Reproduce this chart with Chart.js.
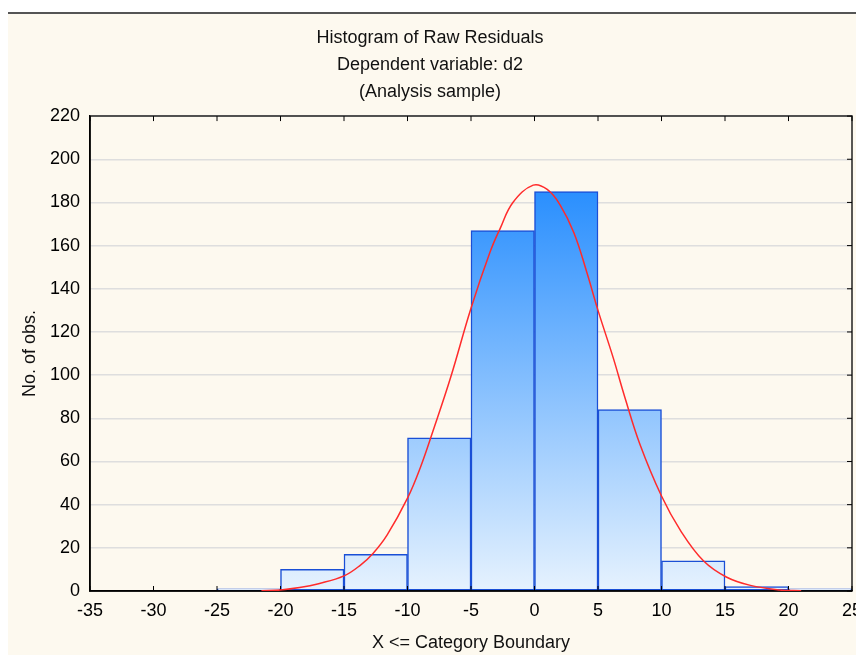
<!DOCTYPE html>
<html>
<head>
<meta charset="utf-8">
<script src="https://cdn.jsdelivr.net/npm/chart.js@4.4.1/dist/chart.umd.min.js"></script>
<style>
  html, body { margin: 0; padding: 0; background: #fff; overflow: hidden; width: 856px; height: 655px; }
  #frame { position: absolute; left: 8px; top: 12px; width: 900px; height: 660px;
           border-top: 2px solid #555; background: #fdf9ef; }
  #hist { display: block; }
</style>
</head>
<body>
<div id="frame"><canvas id="hist" width="880" height="641"></canvas></div>
<script>
// histogram bins (left edge of each 5-wide class) and counts
const binLeft = [-25, -20, -15, -10, -5, 0, 5, 10, 15, 20];
const binWidth = 5;
const counts = [1, 10, 17, 71, 167, 185, 84, 14, 2, 1];

// fitted normal curve
const curveX = [-21.5, -20, -18.5, -17, -15, -13.7, -12.7, -11.6, -10, -9, -8, -6.6, -5, -3.5, -2.7, -1.7, -0.1,
                1, 2, 3.1, 4.1, 5, 6.2, 7.1, 8.3, 10, 11.5, 13.3, 15.1, 17, 19.3, 21];
const curveY = [0.1, 0.5, 1.6, 3.4, 7, 12, 17.5, 26, 43, 57, 74, 99, 131, 157, 168, 180, 188,
                186, 179, 166, 148, 130, 108, 90, 68, 44, 28, 14, 6.5, 2.6, 0.5, 0.1];

const titleLines = ['Histogram of Raw Residuals', 'Dependent variable: d2', '(Analysis sample)'];
const xTitle = 'X <= Category Boundary';
const yTitle = 'No. of obs.';

const FONT = 'Liberation Sans, Arial, sans-serif';

// top/right frame + inward ticks, drawn after bars and before the curve
const framePlugin = {
  id: 'frame',
  afterDatasetDraw(chart, args) {
    if (args.index !== 1) return;
    const { ctx, chartArea: a, scales } = chart;
    ctx.save();
    ctx.lineWidth = 1.5;
    ctx.strokeStyle = '#222';
    ctx.beginPath();
    ctx.moveTo(a.left, a.top); ctx.lineTo(a.right, a.top); ctx.lineTo(a.right, a.bottom);
    ctx.stroke();
    ctx.strokeStyle = '#000';
    ctx.beginPath();
    ctx.moveTo(a.left, a.top); ctx.lineTo(a.left, a.bottom); ctx.lineTo(a.right, a.bottom);
    ctx.stroke();
    ctx.lineWidth = 1;
    ctx.beginPath();
    scales.x.ticks.forEach(t => {
      const px = scales.x.getPixelForValue(t.value);
      ctx.moveTo(px, a.bottom); ctx.lineTo(px, a.bottom - 5);
      ctx.moveTo(px, a.top); ctx.lineTo(px, a.top + 5);
    });
    scales.y.ticks.forEach(t => {
      const py = scales.y.getPixelForValue(t.value);
      ctx.moveTo(a.right, py); ctx.lineTo(a.right - 5, py);
    });
    ctx.stroke();
    ctx.restore();
  }
};

new Chart(document.getElementById('hist'), {
  data: {
    datasets: [
      {
        type: 'line',
        data: curveX.map((x, i) => ({ x: x, y: curveY[i] })),
        borderColor: '#ff2b2b',
        borderWidth: 1.5,
        pointRadius: 0,
        tension: 0.4,
        fill: false
      },
      {
        type: 'bar',
        data: binLeft.map((l, i) => ({ x: l + binWidth / 2, y: counts[i] })),
        backgroundColor(c) {
          const { chart } = c;
          const a = chart.chartArea;
          if (!a) return '#8ec4fd';
          const g = chart.ctx.createLinearGradient(0, a.bottom, 0, chart.scales.y.getPixelForValue(185));
          g.addColorStop(0, '#e6f2fe');
          g.addColorStop(1, '#2a8ffe');
          return g;
        },
        borderColor: '#1a4fd6',
        borderWidth: 1.5,
        borderSkipped: false,
        barPercentage: 1,
        categoryPercentage: 1
      }
    ]
  },
  options: {
    responsive: false,
    devicePixelRatio: 1,
    animation: false,
    layout: { padding: { left: 0, right: 36, top: 0, bottom: 0 } },
    plugins: {
      legend: { display: false },
      tooltip: { enabled: false },
      title: {
        display: true,
        text: titleLines,
        color: '#111',
        font: { family: FONT, size: 18, weight: 'normal', lineHeight: 1.483 },
        padding: { top: 11, bottom: 11 }
      }
    },
    scales: {
      x: {
        type: 'linear',
        min: -35,
        max: 25,
        offset: false,
        afterFit(s) { s.height = 64; },
        ticks: { stepSize: 5, padding: 9, color: '#000', font: { family: FONT, size: 18 }, maxRotation: 0 },
        grid: { display: false, drawTicks: false, offset: false },
        border: { display: true, color: '#000', width: 1.5 },
        title: { display: true, text: xTitle, color: '#111', font: { family: FONT, size: 18 }, padding: { top: 0, bottom: 1 } }
      },
      y: {
        min: 0,
        max: 220,
        afterFit(s) { s.width = 82; },
        ticks: { stepSize: 20, padding: 10, color: '#000', font: { family: FONT, size: 18 } },
        grid: { color: '#dedede', lineWidth: 1.5, drawTicks: false },
        border: { display: true, color: '#000', width: 1.5 },
        title: { display: true, text: yTitle, color: '#111', font: { family: FONT, size: 18 }, padding: { top: 11, bottom: 0 } }
      }
    }
  },
  plugins: [framePlugin]
});
</script>
</body>
</html>
